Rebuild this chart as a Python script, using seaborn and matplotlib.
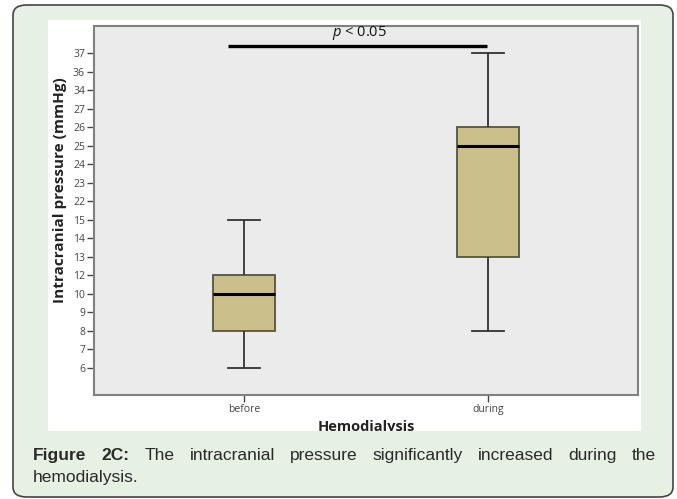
import matplotlib
matplotlib.use("Agg")
import matplotlib.pyplot as plt
from matplotlib.patches import FancyBboxPatch, Rectangle
import seaborn as sns
import pandas as pd

# ordinal levels shown on the y axis (SPSS treats the values as categories)
pressure_levels = [6, 7, 8, 9, 10, 12, 13, 14, 15, 22, 23, 24, 25, 26, 27, 34, 36, 37]
groups = ["before", "during"]
# min, q1, median, q3, max
before_icp = [6, 8, 10, 12, 15]
during_icp = [8, 13, 25, 26, 37]

caption_bold = ["Figure", "2C:"]
caption_line1 = ["The", "intracranial", "pressure", "significantly", "increased", "during", "the"]
caption_line2 = "hemodialysis."

box_color = "#cbc08b"
panel_color = "#ebebeb"
green = "#e6f1e4"

plt.rcParams["mathtext.fontset"] = "custom"
plt.rcParams["mathtext.it"] = "Open Sans:italic"

rows = []
for g, vals in zip(groups, [before_icp, during_icp]):
    for v in vals:
        rows.append({"group": g, "pos": pressure_levels.index(v)})
df = pd.DataFrame(rows)

W, H = 677, 499
fig = plt.figure(figsize=(W / 100, H / 100), dpi=100)
fig.patch.set_facecolor("white")

# green rounded frame and white chart area
frame = FancyBboxPatch((13 / W, 1 - 497 / H), 660 / W, 492 / H,
                       boxstyle="round,pad=0,rounding_size=0.02",
                       transform=fig.transFigure, facecolor=green,
                       edgecolor="#444444", linewidth=1.2, zorder=-2)
fig.patches.append(frame)
white = Rectangle((48 / W, 1 - 431 / H), (641 - 48) / W, (431 - 20) / H,
                  transform=fig.transFigure, facecolor="white",
                  edgecolor="none", zorder=-1)
fig.patches.append(white)

ax = fig.add_axes([94 / W, 1 - 395 / H, (638 - 94) / W, (395 - 26) / H])
ax.set_facecolor(panel_color)

sns.boxplot(data=df, x="group", y="pos", order=groups, color=box_color,
            saturation=1, width=0.258, whis=(0, 100), linewidth=1.3,
            linecolor="#333333",
            boxprops=dict(edgecolor="#55553f"),
            medianprops=dict(color="black", linewidth=2.2),
            ax=ax)

ax.set_xlim(-0.615, 1.615)
ax.set_ylim(-1.457, 18.457)
ax.set_yticks(range(len(pressure_levels)))
ax.set_yticklabels([str(v) for v in pressure_levels])

for s in ax.spines.values():
    s.set_color("#808080")
    s.set_linewidth(1.5)
ax.tick_params(axis="both", length=5, width=1, color="#444444",
               labelsize=7.5, labelcolor="#444444", pad=1.5)

ax.set_xlabel("Hemodialysis", fontsize=10.5, fontweight="bold",
              color="#222222", labelpad=3.5, family="Open Sans")
ax.set_ylabel("Intracranial pressure (mmHg)", fontsize=11, fontweight="bold",
              color="#222222", family="Open Sans")
ax.yaxis.set_label_coords(-0.05, 0.556)
for lab in ax.get_xticklabels() + ax.get_yticklabels():
    lab.set_family("Open Sans")
ax.xaxis.label.set_clip_path(white)

# significance bar
ax.plot([-0.066, 0.996], [17.39, 17.39], color="black", linewidth=2.4,
        clip_on=False, solid_capstyle="butt")
ax.text(0.475, 17.6, r"$p$ < 0.05", ha="center", va="bottom",
        fontsize=10.5, family="Open Sans", color="#111111")

# justified caption
fig.canvas.draw()
renderer = fig.canvas.get_renderer()
x_left, x_right = 33, 656
words = [(w, "bold") for w in caption_bold] + [(w, "normal") for w in caption_line1]
texts = []
for w, wt in words:
    t = fig.text(0, 1 - 460 / H, w, fontsize=12.5, fontweight=wt,
                 family="Liberation Sans", color="#2a2a2a", va="baseline")
    texts.append(t)
widths = [t.get_window_extent(renderer).width for t in texts]
gap = (x_right - x_left - sum(widths)) / (len(texts) - 1)
x = x_left
for t, wd in zip(texts, widths):
    t.set_x(x / W)
    x += wd + gap
fig.text(x_left / W, 1 - 482 / H, caption_line2, fontsize=12.5,
         family="Liberation Sans", color="#2a2a2a", va="baseline")

fig.savefig("out.png", dpi=100)
